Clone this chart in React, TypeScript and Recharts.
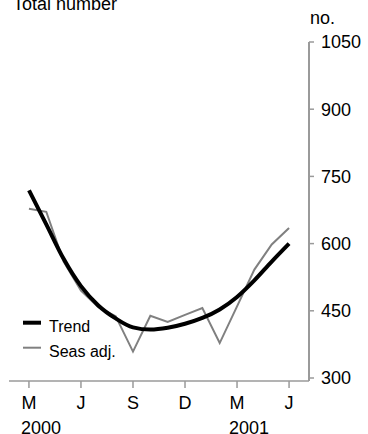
import { LineChart, Line, XAxis, YAxis, Legend } from "recharts";

// Monthly series, Mar 2000 - Jun 2001
const months = [
  "Mar-00", "Apr-00", "May-00", "Jun-00", "Jul-00", "Aug-00", "Sep-00", "Oct-00",
  "Nov-00", "Dec-00", "Jan-01", "Feb-01", "Mar-01", "Apr-01", "May-01", "Jun-01",
];
const trend = [719, 643, 566, 505, 462, 433, 413, 408, 412, 421, 434, 453, 481, 518, 560, 600];
const seasAdj = [678, 671, 560, 495, 458, 438, 359, 439, 425, 441, 456, 378, 460, 542, 598, 635];

const xTicks = [0, 3, 6, 9, 12, 15];
const xTickLabels = ["M", "J", "S", "D", "M", "J"];
const yearLabels: Record<number, string> = { 0: "2000", 12: "2001" };
const yTicks = [300, 450, 600, 750, 900, 1050];

const FONT = "'Liberation Sans', Arial, sans-serif";
const AXIS = "#9a9a9a";

const data = months.map((m, i) => ({ idx: i, month: m, trend: trend[i], seas: seasAdj[i] }));

function MonthTick({ x, y, payload }: { x?: number; y?: number; payload?: { value: number } }) {
  const v = payload?.value ?? 0;
  const label = xTickLabels[xTicks.indexOf(v)];
  const year = yearLabels[v];
  return (
    <g>
      <text x={x} y={(y ?? 0) + 12.8} textAnchor="middle" fontSize={18} fill="#000" fontFamily={FONT}>
        {label}
      </text>
      {year && (
        <text x={(x ?? 0) - 8} y={(y ?? 0) + 37.5} textAnchor="start" fontSize={18} fill="#000" fontFamily={FONT}>
          {year}
        </text>
      )}
    </g>
  );
}

function LegendBox() {
  return (
    <svg width={110} height={52} style={{ display: "block" }}>
      <line x1={3} x2={21} y1={12.7} y2={12.7} stroke="#000" strokeWidth={4} />
      <text x={29} y={22} fontSize={16} fontFamily={FONT} fill="#000">Trend</text>
      <line x1={3} x2={21} y1={37.7} y2={37.7} stroke="#808080" strokeWidth={2} />
      <text x={29} y={46.7} fontSize={16} fontFamily={FONT} fill="#000">Seas adj.</text>
    </svg>
  );
}

export default function App() {
  return (
    <div style={{ position: "absolute", left: 0, top: 0, width: 368, height: 434, background: "#fff" }}>
      <svg width={368} height={434} style={{ position: "absolute", left: 0, top: 0 }}>
        <text x={13} y={10} fontSize={18} fontFamily={FONT} fill="#000">Total number</text>
        <text x={310} y={24} fontSize={18} fontFamily={FONT} fill="#000">no.</text>
      </svg>
      <div style={{ position: "absolute", left: 0, top: 0 }}>
        <LineChart width={368} height={434} data={data} margin={{ top: 42, right: 0, bottom: 0, left: 9 }}>
          <XAxis
            type="number"
            dataKey="idx"
            domain={[-1.15, 16.15]}
            ticks={xTicks}
            allowDataOverflow
            height={53}
            tickSize={7}
            tickMargin={8}
            axisLine={{ stroke: AXIS, strokeWidth: 1.5 }}
            tickLine={{ stroke: AXIS, strokeWidth: 1.5 }}
            tick={<MonthTick />}
            interval={0}
          />
          <YAxis
            orientation="right"
            domain={[293.3, 1050]}
            ticks={yTicks}
            allowDataOverflow
            width={59}
            tickSize={5}
            tickMargin={7}
            axisLine={{ stroke: AXIS, strokeWidth: 2 }}
            tickLine={{ stroke: AXIS, strokeWidth: 1.5 }}
            tick={{ fill: "#000", fontSize: 18, fontFamily: FONT, textAnchor: "start" }}
            interval={0}
          />
          <Legend
            layout="vertical"
            align="center"
            verticalAlign="middle"
            content={<LegendBox />}
            wrapperStyle={{ position: "absolute", left: 20, top: 310, width: 110, height: 52 }}
          />
          <Line
            dataKey="seas"
            name="Seas adj."
            type="linear"
            stroke="#808080"
            strokeWidth={2}
            dot={false}
            isAnimationActive={false}
          />
          <Line
            dataKey="trend"
            name="Trend"
            type="monotone"
            stroke="#000"
            strokeWidth={4}
            dot={false}
            isAnimationActive={false}
          />
        </LineChart>
      </div>
    </div>
  );
}
